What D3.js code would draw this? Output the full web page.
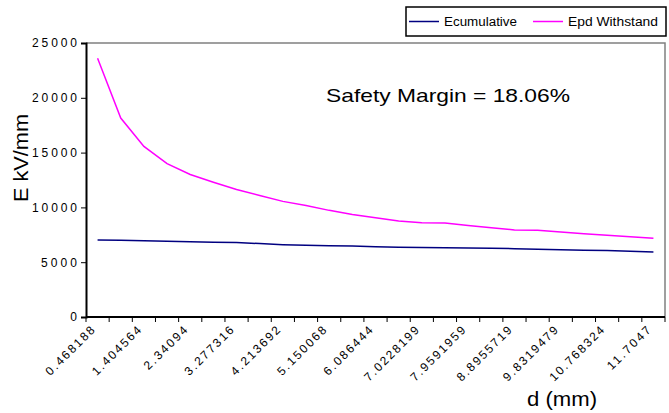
<!DOCTYPE html>
<html><head><meta charset="utf-8">
<script src="https://cdn.jsdelivr.net/npm/d3@7"></script>
<style>body{margin:0;background:#fff}svg{display:block}</style>
</head><body><svg id="c" width="669" height="413"></svg>
<script>
const categories = ["0.468188","0.936376","1.404564","1.872752","2.34094","2.809128","3.277316","3.745504","4.213692","4.68188","5.150068","5.618256","6.086444","6.554632","7.0228199","7.4910079","7.9591959","8.4273839","8.8955719","9.3637599","9.8319479","10.300136","10.768324","11.236512","11.7047"];
const ecumulative = [7030,7000,6960,6910,6870,6820,6790,6700,6600,6540,6500,6470,6420,6370,6330,6320,6300,6280,6230,6180,6140,6100,6060,6000,5940];
const epdWithstand = [23600,18150,15570,14000,13000,12300,11640,11090,10550,10180,9730,9360,9060,8760,8600,8570,8340,8150,7940,7910,7760,7600,7450,7330,7180];
const yTicks = [0,5000,10000,15000,20000,25000];
const seriesNames = ["Ecumulative","Epd Withstand"];
const seriesColors = ["#000080","#ff00ff"];
const annotation = "Safety Margin = 18.06%";

const svg = d3.select("#c");
const L = 86, R = 665, T = 43, B = 317;
const x = d3.scaleBand().domain(categories).range([L, R]).padding(0);
const y = d3.scaleLinear().domain([0, 25000]).range([B, T]);
const font = "'Liberation Sans', Arial, sans-serif";

// plot frame (top/right gray)
svg.append("path").attr("d", `M${L},${T}H${R}V${B}`).attr("fill","none").attr("stroke","#808080").attr("stroke-width",1.5);

// y axis
const yAxis = svg.append("g").attr("transform", `translate(${L},0)`)
  .call(d3.axisLeft(y).tickValues(yTicks).tickSize(5).tickPadding(4).tickFormat(d3.format("d")));
yAxis.select(".domain").attr("stroke","#000").attr("stroke-width",2);
yAxis.selectAll(".tick line").attr("stroke","#000");
yAxis.selectAll("text").attr("font-family", font).attr("font-size", 12).attr("fill","#000")
  .each(function(d){ const s = String(d); if (s.length > 1) d3.select(this).attr("textLength", s.length * 9).attr("lengthAdjust","spacing"); });

// x axis baseline
svg.append("line").attr("x1", L).attr("x2", R).attr("y1", B).attr("y2", B).attr("stroke","#000").attr("stroke-width",2);
// x ticks at category boundaries
const bounds = categories.map(c => x(c)).concat([x(categories[categories.length-1]) + x.bandwidth()]);
svg.append("g").selectAll("line").data(bounds).join("line")
  .attr("x1", d => d).attr("x2", d => d).attr("y1", B).attr("y2", B + 5).attr("stroke","#000");
// x labels every other category
svg.append("g").selectAll("text").data(categories.filter((c,i) => i % 2 === 0)).join("text")
  .attr("transform", d => `translate(${x(d) + x.bandwidth()/2 - 2},${B + 14}) rotate(-45)`)
  .attr("text-anchor","end").attr("font-family", font).attr("font-size", 12).attr("fill","#000")
  .attr("textLength", d => d.length * 8).attr("lengthAdjust","spacing")
  .text(d => d);

// lines
const data = [ecumulative, epdWithstand];
const line = d3.line().x((d,i) => x(categories[i]) + x.bandwidth()/2).y(d => y(d));
data.forEach((s, k) => {
  svg.append("path").datum(s).attr("d", line).attr("fill","none")
    .attr("stroke", seriesColors[k]).attr("stroke-width", 1.5);
});

// axis titles
svg.append("text").attr("transform", `translate(28,158) rotate(-90)`)
  .attr("text-anchor","middle").attr("font-family", font).attr("font-size", 20).attr("fill","#000")
  .attr("textLength", 88).attr("lengthAdjust","spacingAndGlyphs").text("E kV/mm");
svg.append("text").attr("x", 562).attr("y", 406).attr("text-anchor","middle")
  .attr("font-family", font).attr("font-size", 20).attr("fill","#000")
  .attr("textLength", 70).attr("lengthAdjust","spacingAndGlyphs").text("d (mm)");

// annotation
svg.append("text").attr("x", 326).attr("y", 102).attr("font-family", font).attr("font-size", 19)
  .attr("textLength", 244).attr("lengthAdjust","spacingAndGlyphs").attr("fill","#000").text(annotation);

// legend
const lg = svg.append("g");
lg.append("rect").attr("x", 406).attr("y", 7).attr("width", 260).attr("height", 29)
  .attr("fill","#fff").attr("stroke","#000").attr("stroke-width",1.5);
const lx = [409, 533];
const tw = [73, 90];
seriesNames.forEach((n, k) => {
  lg.append("line").attr("x1", lx[k]).attr("x2", lx[k] + 30).attr("y1", 21.5).attr("y2", 21.5)
    .attr("stroke", seriesColors[k]).attr("stroke-width", 1.5);
  lg.append("text").attr("x", lx[k] + 35).attr("y", 26).attr("font-family", font).attr("font-size", 12)
    .attr("textLength", tw[k]).attr("lengthAdjust","spacingAndGlyphs")
    .attr("fill","#000").text(n);
});
</script></body></html>
